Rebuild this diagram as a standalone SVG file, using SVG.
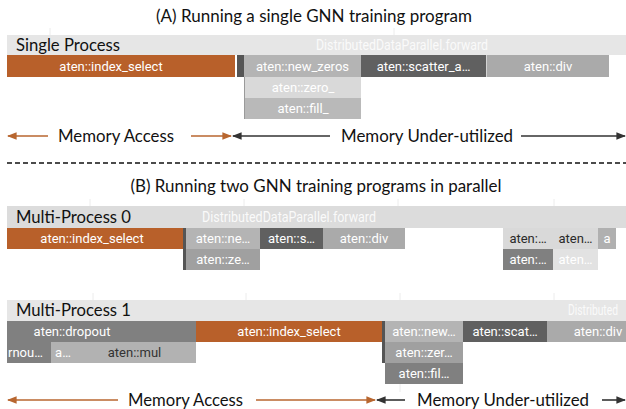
<svg xmlns="http://www.w3.org/2000/svg" width="626" height="409" viewBox="0 0 626 409">
<defs>
<marker id="ao" viewBox="0 0 10 10" refX="9" refY="5" markerWidth="6" markerHeight="6" orient="auto-start-reverse"><path d="M0,1 L10,5 L0,9 z" fill="#b8662f"/></marker>
<marker id="ad" viewBox="0 0 10 10" refX="9" refY="5" markerWidth="6" markerHeight="6" orient="auto-start-reverse"><path d="M0,1 L10,5 L0,9 z" fill="#333"/></marker>
</defs>
<style>
.title{font-family:Lato,"Liberation Sans",sans-serif;font-size:16.5px;fill:#111;text-anchor:middle}
.lane{font-family:Lato,"Liberation Sans",sans-serif;font-size:17px;fill:#111}
.mem{font-family:Lato,"Liberation Sans",sans-serif;font-size:17px;fill:#111}
.band{fill:#e6e6e6}
.ddp{font-family:Roboto,"Liberation Sans",sans-serif;font-size:14px;fill:#fafafa}
.lb{font-family:Roboto,"Liberation Sans",sans-serif;font-size:13px;fill:#fff;text-anchor:middle}
.dk{fill:#2a2a2a}
.or{fill:#b8602a}
.g1{fill:#b4b4b4}
.g2{fill:#606060}
.g3{fill:#aaaaaa}
.g4{fill:#d9d9d9}
.g5{fill:#b9b9b9}
.g6{fill:#808080}
.g7{fill:#a0a0a0}
.g8{fill:#e2e2e2}
.thin{fill:#555}
.grid{stroke:#ececec;stroke-width:1}
.lo{stroke:#b8662f;stroke-width:1.6;fill:none}
.ld{stroke:#333;stroke-width:1.6;fill:none}
</style>

<text class="title" x="314" y="22" textLength="316" lengthAdjust="spacingAndGlyphs">(A) Running a single GNN training program</text>

<g id="laneA">
<line class="grid" x1="50" y1="28" x2="50" y2="35"/>
<line class="grid" x1="394" y1="28" x2="394" y2="35"/>
<rect class="band" x="7" y="35" width="619" height="20"/>
<text class="lane" x="16" y="51" textLength="104" lengthAdjust="spacingAndGlyphs">Single Process</text>
<text class="ddp" x="316" y="50" textLength="172" lengthAdjust="spacingAndGlyphs">DistributedDataParallel.forward</text>
</g>
<g id="A_index_select"><rect class="or" x="7" y="55" width="228" height="22"/><text class="lb" x="111" y="71">aten::index_select</text></g>
<g id="A_thin"><rect class="thin" x="237" y="55" width="7" height="22"/></g>
<g id="A_new_zeros"><rect class="g1" x="244" y="55" width="117" height="22"/><text class="lb" x="302.5" y="71">aten::new_zeros</text></g>
<g id="A_scatter"><rect class="g2" x="361" y="55" width="125" height="22"/><text class="lb" x="423.5" y="71">aten::scatter_a…</text></g>
<g id="A_div"><rect class="g3" x="486.5" y="55" width="122.5" height="22"/><text class="lb" x="548" y="71">aten::div</text></g>
<g id="A_zero"><rect class="g4" x="244" y="77" width="117" height="21"/><text class="lb" x="303" y="92">aten::zero_</text></g>
<g id="A_fill"><rect class="g5" x="244" y="98" width="117" height="21"/><text class="lb" x="303" y="113">aten::fill_</text></g>
<line x1="244.5" y1="77" x2="244.5" y2="119" stroke="#9a9a9a" stroke-width="1"/>

<g id="connectors">
<line class="lo" x1="48" y1="136" x2="8" y2="136" marker-end="url(#ao)"/>
<line class="lo" x1="191" y1="136" x2="231" y2="136" marker-end="url(#ao)"/>
<line class="ld" x1="330" y1="136" x2="233" y2="136" marker-end="url(#ad)"/>
<line class="ld" x1="521" y1="136" x2="625" y2="136" marker-end="url(#ad)"/>
<line x1="7" y1="163" x2="626" y2="163" stroke="#111" stroke-width="1.6" stroke-dasharray="5,3"/>
<line class="lo" x1="118" y1="400" x2="8" y2="400" marker-end="url(#ao)"/>
<line class="lo" x1="256" y1="400" x2="375" y2="400" marker-end="url(#ao)"/>
<line class="ld" x1="405" y1="400" x2="377" y2="400" marker-end="url(#ad)"/>
<line class="ld" x1="602" y1="400" x2="625" y2="400" marker-end="url(#ad)"/>
</g>
<text class="mem" x="58" y="142" textLength="116" lengthAdjust="spacingAndGlyphs">Memory Access</text>
<text class="mem" x="341" y="142" textLength="172" lengthAdjust="spacingAndGlyphs">Memory Under-utilized</text>

<text class="title" x="316" y="192" textLength="371" lengthAdjust="spacingAndGlyphs">(B) Running two GNN training programs in parallel</text>

<g id="laneB0">
<line class="grid" x1="90" y1="199" x2="90" y2="206"/>
<line class="grid" x1="244" y1="199" x2="244" y2="206"/>
<line class="grid" x1="398" y1="199" x2="398" y2="206"/>
<line class="grid" x1="554" y1="199" x2="554" y2="206"/>
<rect x="7" y="206" width="619" height="22" fill="#dcdcdc"/>
<text class="lane" x="16" y="223" textLength="115" lengthAdjust="spacingAndGlyphs">Multi-Process 0</text>
<text class="ddp" x="202" y="222" textLength="174" lengthAdjust="spacingAndGlyphs">DistributedDataParallel.forward</text>
</g>
<g id="B0_index_select"><rect class="or" x="7" y="228" width="176" height="21"/><text class="lb" x="92" y="243">aten::index_select</text></g>
<g id="B0_thin"><rect class="thin" x="183" y="228" width="3" height="42"/></g>
<g id="B0_new"><rect class="g1" x="186" y="228" width="74" height="21"/><text class="lb" x="223" y="243">aten::ne…</text></g>
<g id="B0_s"><rect class="g2" x="260" y="228" width="63" height="21"/><text class="lb" x="291.5" y="243">aten::s…</text></g>
<g id="B0_div"><rect class="g3" x="323" y="228" width="82" height="21"/><text class="lb" x="364" y="243">aten::div</text></g>
<g id="B0_ze"><rect class="g7" x="186" y="249" width="74" height="21"/><text class="lb" x="223" y="264">aten::ze…</text></g>
<g id="B0_r1"><rect class="g4" x="503" y="228" width="50" height="21"/><text class="lb dk" x="528" y="243">aten:…</text></g>
<g id="B0_r2"><rect class="g4" x="553" y="228" width="45" height="21"/><text class="lb dk" x="575.5" y="243">aten…</text></g>
<g id="B0_r3"><rect fill="#b0b0b0" x="598" y="228" width="18" height="21"/><text class="lb" x="607" y="243">a</text></g>
<g id="B0_r4"><rect class="g6" x="503" y="249" width="50" height="21"/><text class="lb" x="528" y="264">aten:…</text></g>
<g id="B0_r5"><rect class="g8" x="553" y="249" width="45" height="21"/><text class="lb" x="575.5" y="264">aten…</text></g>

<g id="laneB1">
<line class="grid" x1="93" y1="293" x2="93" y2="300"/>
<line class="grid" x1="246" y1="293" x2="246" y2="300"/>
<line class="grid" x1="400" y1="293" x2="400" y2="300"/>
<line class="grid" x1="554" y1="293" x2="554" y2="300"/>
<line class="grid" x1="400" y1="384" x2="400" y2="392"/>
<rect class="band" x="7" y="300" width="619" height="21"/>
<text class="lane" x="16" y="316" textLength="115" lengthAdjust="spacingAndGlyphs">Multi-Process 1</text>
<text class="ddp" x="568" y="315" textLength="50" lengthAdjust="spacingAndGlyphs">Distributed</text>
</g>
<g id="B1_dropout"><rect class="g6" x="7" y="321" width="189" height="21"/><text class="lb" x="72" y="336">aten::dropout</text></g>
<g id="B1_index_select"><rect class="or" x="196" y="321" width="186" height="21"/><text class="lb" x="289" y="336">aten::index_select</text></g>
<g id="B1_thin"><rect class="thin" x="382" y="321" width="3" height="42"/></g>
<g id="B1_new"><rect class="g1" x="385" y="321" width="78" height="21"/><text class="lb" x="424" y="336">aten::new…</text></g>
<g id="B1_scat"><rect class="g2" x="463" y="321" width="84" height="21"/><text class="lb" x="505" y="336">aten::scat…</text></g>
<g id="B1_div"><rect class="g3" x="547" y="321" width="79" height="21"/><text class="lb" x="598" y="336">aten::div</text></g>
<g id="B1_rnou"><rect class="g6" x="7" y="342" width="44" height="21"/><text class="lb" x="8" y="357" style="text-anchor:start">rnou…</text></g>
<g id="B1_a"><rect fill="#b2b2b2" x="51" y="342" width="32" height="21"/><text class="lb" x="63" y="357">a…</text></g>
<g id="B1_mul"><rect fill="#b2b2b2" x="83" y="342" width="113" height="21"/><text class="lb" x="134.5" y="357" style="fill:#333">aten::mul</text></g>
<g id="B1_zer"><rect class="g7" x="385" y="342" width="78" height="21"/><text class="lb" x="424" y="357">aten::zer…</text></g>
<g id="B1_fil"><rect class="g6" x="385" y="363" width="78" height="21"/><text class="lb" x="424" y="378">aten::fil…</text></g>

<text class="mem" x="128" y="406" textLength="115" lengthAdjust="spacingAndGlyphs">Memory Access</text>
<text class="mem" x="417" y="406" textLength="172" lengthAdjust="spacingAndGlyphs">Memory Under-utilized</text>
</svg>
